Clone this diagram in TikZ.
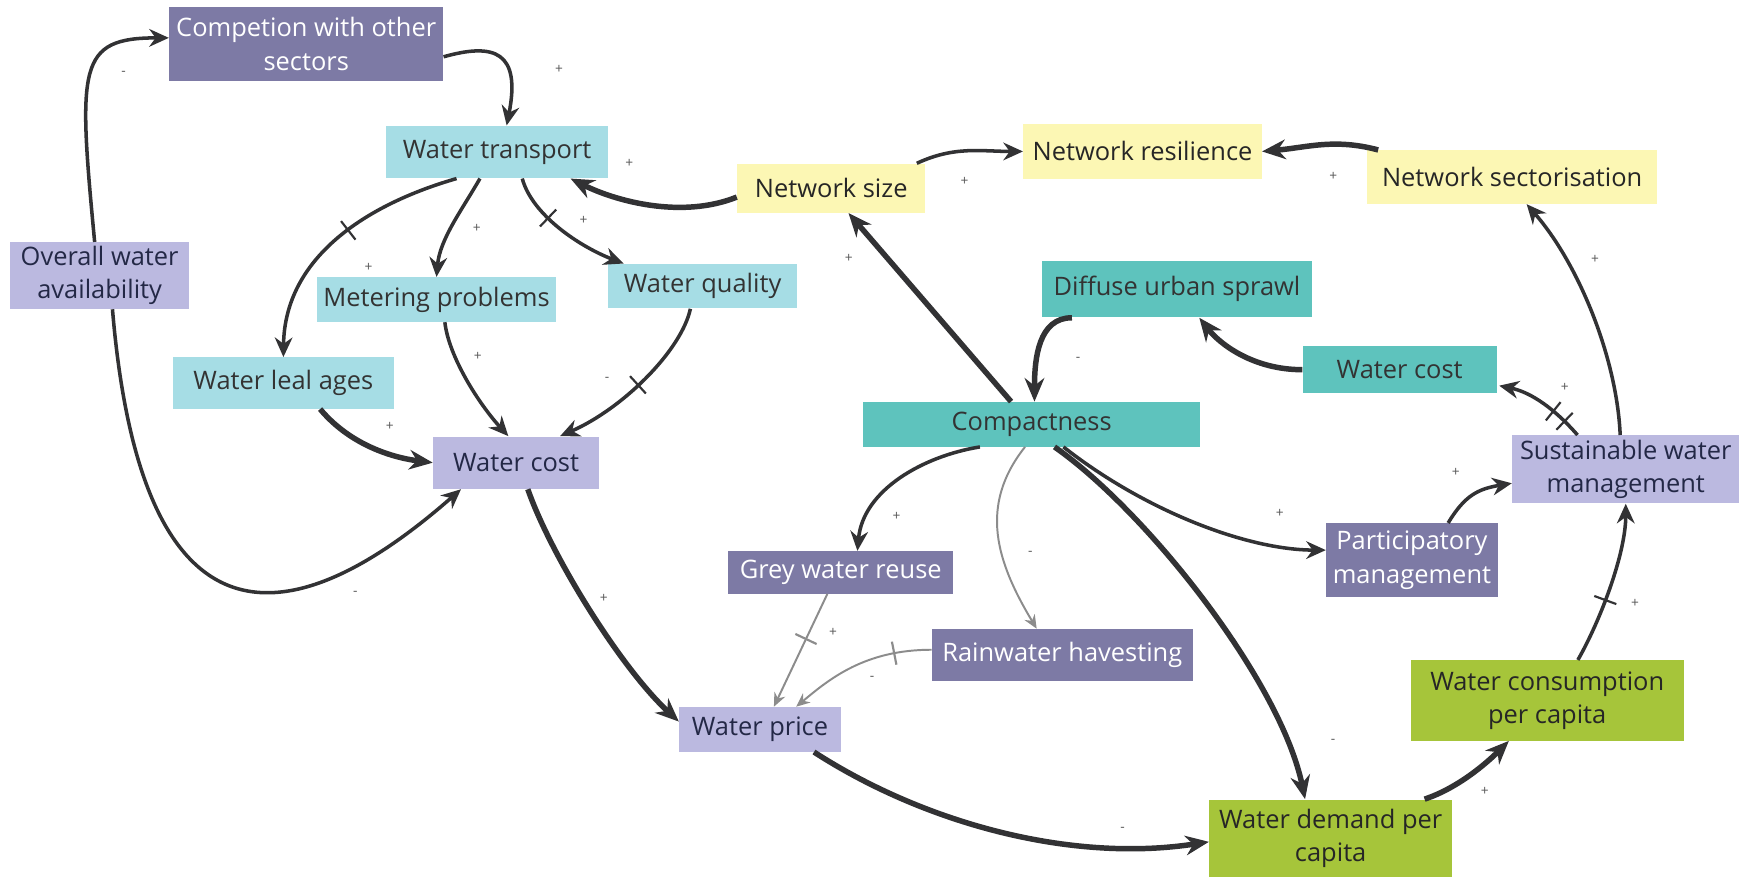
\documentclass[tikz,border=0pt]{standalone}
\usepackage{fontspec}
\setmainfont{Open Sans}
\usetikzlibrary{arrows.meta, positioning, decorations.markings}
\definecolor{loopdark}{RGB}{125,122,165}
\definecolor{looplight}{RGB}{187,185,224}
\definecolor{loopcyan}{RGB}{166,221,229}
\definecolor{loopyellow}{RGB}{252,247,180}
\definecolor{loopteal}{RGB}{94,195,189}
\definecolor{looplime}{RGB}{166,197,58}
\definecolor{loopedge}{RGB}{50,50,52}
\definecolor{loopfaint}{RGB}{140,140,140}
\definecolor{looptext}{RGB}{35,40,70}

\begin{document}
\begin{tikzpicture}[
        on grid,
        box/.style={rectangle, inner sep=2pt, align=center, font=\fontsize{13}{17}\selectfont},
        vardark/.style={box, fill=loopdark, text=white},
        varlight/.style={box, fill=looplight, text=looptext},
        varcyan/.style={box, fill=loopcyan, text=black!80},
        varyellow/.style={box, fill=loopyellow, text=black!85},
        varteal/.style={box, fill=loopteal, text=black!80},
        varlime/.style={box, fill=looplime, text=black!85},
        link/.style={-{Stealth[length=10pt, width=9pt]}, color=loopedge, line width=1.8pt},
        heavy/.style={-{Stealth[length=12pt, width=10pt]}, color=loopedge, line width=2.8pt},
        faint/.style={-{Stealth[length=7pt, width=6pt]}, color=loopfaint, line width=1pt},
        delay/.style={postaction={decorate, decoration={markings,
            mark=at position #1 with {\draw[-, line width=1.1pt] (0,-6pt) -- (0,6pt);}}}},
        pol/.style={text=black!65, font=\fontsize{7}{7}\selectfont, inner sep=0pt}
    ]
        \fill[white] (0,0) rectangle (31.36,-15.78);

        % Left loop
        \node[vardark, minimum width=4.92cm, minimum height=1.34cm] (comp) at (5.50,-0.79) {Competion with other\\sectors};
        \node[varcyan, minimum width=3.98cm, minimum height=0.94cm, below right=1.94cm and 3.43cm of comp] (wtrans) {Water transport};
        \node[varlight, minimum width=3.22cm, minimum height=1.18cm, below left=4.16cm and 3.71cm of comp] (overall) {Overall water\\availability};
        \node[varcyan, minimum width=4.28cm, minimum height=0.80cm, below left=2.65cm and 1.09cm of wtrans] (meter) {Metering problems};
        \node[varcyan, minimum width=3.40cm, minimum height=0.80cm, below right=2.41cm and 3.69cm of wtrans] (wqual) {Water quality};
        \node[varcyan, minimum width=3.98cm, minimum height=0.92cm, below left=1.50cm and 2.75cm of meter] (leak) {Water leal ages};
        \node[varlight, minimum width=2.98cm, minimum height=0.94cm, below right=2.93cm and 1.43cm of meter] (costL) {Water cost};

        % Network
        \node[varyellow, minimum width=3.38cm, minimum height=0.88cm, below right=0.65cm and 6.00cm of wtrans] (netsize) {Network size};
        \node[varyellow, minimum width=4.28cm, minimum height=1.00cm, above right=0.66cm and 5.59cm of netsize] (netres) {Network resilience};
        \node[varyellow, minimum width=5.20cm, minimum height=0.96cm, below right=0.46cm and 6.64cm of netres] (netsect) {Network sectorisation};

        % Urban form
        \node[varteal, minimum width=4.84cm, minimum height=1.02cm, below right=2.47cm and 0.62cm of netres] (sprawl) {Diffuse urban sprawl};
        \node[varteal, minimum width=3.48cm, minimum height=0.84cm, below right=1.45cm and 4.00cm of sprawl] (costR) {Water cost};
        \node[varteal, minimum width=6.06cm, minimum height=0.80cm, below left=2.43cm and 2.61cm of sprawl] (compact) {Compactness};
        \node[varlight, minimum width=4.08cm, minimum height=1.22cm, below right=1.79cm and 4.06cm of costR] (sustain) {Sustainable water\\management};
        \node[vardark, minimum width=3.08cm, minimum height=1.32cm, below left=1.63cm and 3.84cm of sustain] (partic) {Participatory\\management};
        \node[vardark, minimum width=4.04cm, minimum height=0.76cm, below left=2.66cm and 3.43cm of compact] (grey) {Grey water reuse};
        \node[vardark, minimum width=4.68cm, minimum height=0.94cm, below right=4.15cm and 0.55cm of compact] (rain) {Rainwater havesting};

        % Demand
        \node[varlight, minimum width=2.90cm, minimum height=0.80cm, below left=2.82cm and 1.45cm of grey] (price) {Water price};
        \node[varlime, minimum width=4.90cm, minimum height=1.44cm, below left=4.15cm and 1.41cm of sustain] (consum) {Water consumption\\per capita};
        \node[varlime, minimum width=4.36cm, minimum height=1.40cm, below left=2.48cm and 3.89cm of consum] (demand) {Water demand per\\capita};

        % Links, left part
        \draw[link] ([xshift=-0.09cm]overall.north) .. controls +(-0.30,3.16) and +(-1.64,0) .. ([yshift=0.11cm]comp.west);
        \draw[link] ([xshift=0.23cm]overall.south) .. controls +(0.60,-7.16) and +(-2.28,-2.00) .. ([xshift=-0.99cm]costL.south);
        \draw[link] ([yshift=-0.23cm]comp.east) .. controls +(0.92,0.26) and +(0.26,1.32) .. ([xshift=0.17cm]wtrans.north);
        \draw[link, delay=0.45] ([xshift=-0.73cm]wtrans.south) .. controls +(-1.60,-0.46) and +(0.02,1.80) .. (leak.north);
        \draw[link] ([xshift=-0.31cm]wtrans.south) .. controls +(-0.32,-0.56) and +(0.06,0.68) .. (meter.north);
        \draw[link, delay=0.35] ([xshift=0.45cm]wtrans.south) .. controls +(0.18,-0.66) and +(-0.78,0.30) .. ([xshift=-1.42cm]wqual.north);
        \draw[heavy] ([xshift=0.66cm]leak.south) .. controls +(0.5,-0.6) and +(-0.8,0.1) .. (costL.west);
        \draw[link] ([xshift=0.15cm]meter.south) .. controls +(0.07,-0.62) and +(-0.53,0.58) .. ([xshift=-0.14cm]costL.north);
        \draw[link, delay=0.5] ([xshift=-0.22cm]wqual.south) .. controls +(-0.16,-0.74) and +(1.14,0.5) .. ([xshift=0.79cm]costL.north);
        \draw[heavy] ([xshift=0.21cm]costL.south) .. controls +(0.42,-1.2) and +(-1.04,0.96) .. ([yshift=0.14cm]price.west);

        % Links, network
        \draw[heavy] ([yshift=-0.16cm]netsize.west) .. controls +(-1.0,-0.4) and +(0.8,-0.4) .. ([xshift=-0.68cm]wtrans.south east);
        \draw[link] ([xshift=-0.16cm]netsize.north east) to[out=25, in=180] (netres.west);
        \draw[heavy] ([xshift=0.2cm]netsect.north west) to[out=165, in=5] (netres.east);
        \draw[heavy] ([xshift=-0.37cm]compact.north) -- ([xshift=0.31cm]netsize.south);
        \draw[link] ([xshift=-0.1cm]sustain.north) .. controls +(-0.06,1.38) and +(0.94,-1.08) .. ([xshift=0.26cm]netsect.south);

        % Links, urban form
        \draw[heavy] ([xshift=0.54cm]sprawl.south west) .. controls +(-0.6,0) and +(0,0.78) .. ([xshift=0.05cm]compact.north);
        \draw[heavy] (costR.west) .. controls +(-0.9,0) and +(0.36,-0.46) .. ([xshift=0.40cm]sprawl.south);
        \draw[link, delay=0.2, delay=0.36] ([xshift=1.18cm]sustain.north west) .. controls +(-0.40,0.46) and +(0.58,-0.12) .. ([xshift=0.04cm, yshift=0.14cm]costR.south east);
        \draw[link] ([xshift=-0.93cm]compact.south) .. controls +(-1.0,-0.16) and +(0.1,1.1) .. ([xshift=0.3cm]grey.north);
        \draw[faint] ([xshift=-0.12cm]compact.south) .. controls +(-0.84,-1.06) and +(-0.72,1.20) .. ([xshift=-0.46cm]rain.north);
        \draw[heavy] ([xshift=0.41cm]compact.south) .. controls +(1.66,-1.16) and +(-0.44,2.12) .. ([xshift=-0.46cm]demand.north);
        \draw[link] ([xshift=0.57cm]compact.south) .. controls +(1.48,-1.16) and +(-1.4,0) .. ([yshift=0.18cm]partic.west);
        \draw[link] ([xshift=0.65cm]partic.north) .. controls +(0.3,0.5) and +(-0.6,-0.1) .. ([yshift=-0.25cm]sustain.west);
        \draw[faint, delay=0.4] ([xshift=-0.24cm]grey.south) -- ([xshift=0.25cm]price.north);
        \draw[faint, delay=0.25] ([yshift=0.1cm]rain.west) .. controls +(-1.2,0) and +(0.6,0.5) .. ([xshift=0.65cm]price.north);

        % Links, demand
        \draw[heavy] ([xshift=0.97cm]price.south) .. controls +(1.98,-1.28) and +(-2.48,-0.38) .. ([yshift=-0.06cm]demand.west);
        \draw[heavy] ([xshift=-0.5cm]demand.north east) .. controls +(0.6,0.2) and +(-0.4,-0.4) .. ([xshift=-0.69cm]consum.south);
        \draw[link, delay=0.4] ([xshift=0.55cm]consum.north) .. controls +(0.4,0.7) and +(0,-0.9) .. (sustain.south);

        % Polarities
        \foreach \px/\py/\s [count=\i] in {111/66/-, 502/62/+, 565/147/+, 866/163/+, 762/232/+, 1197/158/+,
                968/323/-, 1432/233/+, 1405/348/+, 1307/424/+, 331/240/+, 428/205/+, 524/198/+, 429/320/+,
                545/341/-, 350/383/+, 319/533/-, 542/537/+, 805/464/+, 925/497/-, 748/568/+, 783/609/-,
                1149/461/+, 1197/666/-, 1333/711/+, 1468/542/+, 1008/745/-}
            \node[pol] (pol\i) at (\px*0.02, -\py*0.02) {\s};
    \end{tikzpicture}
\end{document}
